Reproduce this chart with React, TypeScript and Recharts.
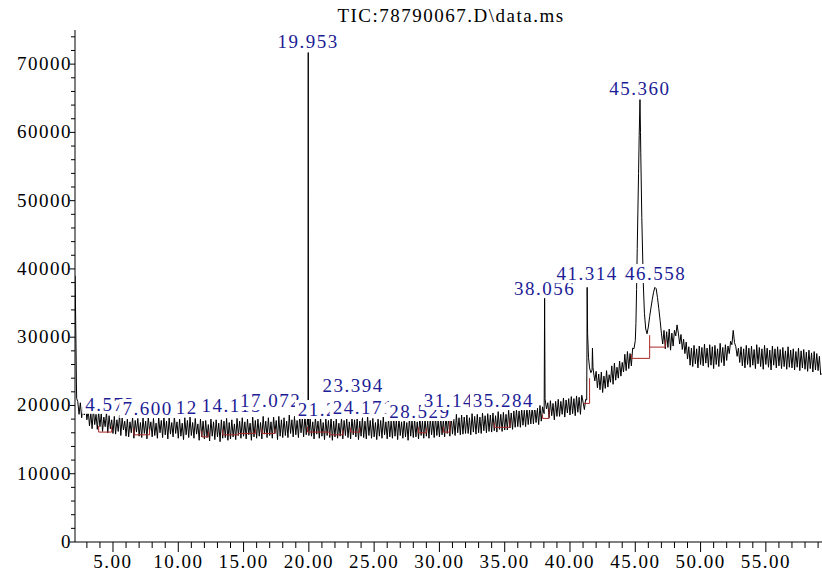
import { ComposedChart, Line, Scatter, XAxis, YAxis } from 'recharts';

// TIC trace, sampled every 0.1 min starting at 2.1 min (one row = one minute)
const baseStart = 2.1;
const baseStep = 0.1;
const baseValues = [
  39000, 23000, 20600, 18700, 20400, 18200, 19800, 18600, 20100, 17900,
  19300, 17000, 18900, 16600, 19500, 17200, 18700, 16500, 19100, 16900,
  18800, 16200, 18300, 16900, 19000, 16000, 18500, 16600, 17900, 15900,
  18400, 15800, 17900, 16200, 18600, 15600, 18200, 16400, 17700, 15500,
  18000, 15400, 17600, 16000, 18300, 15200, 17800, 16100, 18100, 15500,
  17500, 15300, 18200, 15900, 17700, 15100, 18400, 16200, 17600, 15400,
  18100, 15600, 17400, 15200, 18300, 16000, 17800, 15300, 18500, 15700,
  17700, 15100, 18200, 15800, 17500, 15400, 18400, 15900, 17600, 15200,
  18000, 15500, 17400, 15000, 18200, 15700, 17800, 15300, 18300, 15600,
  17500, 15200, 18100, 15800, 17300, 14900, 18000, 15400, 17700, 15100,
  17800, 15300, 17200, 14800, 18000, 15500, 17600, 15000, 17900, 15400,
  17400, 14700, 17900, 15200, 17700, 15300, 18100, 14900, 17500, 15100,
  17900, 15400, 17300, 15000, 18100, 15600, 17700, 15200, 18200, 15500,
  17600, 15100, 18000, 15700, 17400, 14900, 18300, 15400, 17800, 15200,
  18000, 15500, 17500, 15100, 18400, 15800, 17700, 15300, 18200, 15600,
  17600, 15200, 18300, 15900, 17800, 15000, 18400, 15500, 17900, 15300,
  18200, 15600, 17700, 15300, 18600, 15900, 17900, 15400, 18400, 15700,
  17800, 15300, 18500, 16000, 18100, 15400, 18600, 15700, 18200, 15600,
  18100, 15500, 17600, 15100, 18300, 15800, 17700, 15200, 18200, 15500,
  17500, 15000, 18100, 15600, 17800, 15300, 18300, 14900, 17700, 15400,
  18000, 15200, 17400, 15500, 18200, 15100, 17800, 15600, 18100, 15300,
  17600, 15100, 18300, 15700, 17900, 15400, 18200, 15000, 17700, 15500,
  18200, 15300, 17700, 15100, 18400, 15600, 17800, 15200, 18100, 15400,
  17500, 15000, 18000, 15500, 17800, 15200, 18300, 15700, 17600, 15100,
  18100, 15400, 17700, 15200, 18300, 15500, 17900, 15000, 18200, 15600,
  17600, 15200, 18000, 15400, 17500, 14900, 18200, 15500, 17800, 15300,
  18000, 15400, 17600, 15100, 18300, 15600, 17700, 15200, 18100, 15500,
  17700, 15200, 18200, 15700, 17900, 15300, 18400, 15600, 17800, 15400,
  18300, 15700, 17900, 15400, 18600, 15900, 18100, 15500, 18500, 15800,
  18000, 15600, 18700, 16000, 18200, 15700, 18600, 15800, 18300, 15900,
  18600, 15900, 18200, 15700, 18800, 16100, 18400, 15800, 18700, 16000,
  18300, 15900, 18900, 16300, 18500, 16000, 18800, 16200, 18600, 16100,
  18900, 16300, 18500, 16100, 19100, 16500, 18700, 16200, 19000, 16400,
  18700, 16400, 19300, 16700, 18900, 16500, 19200, 16800, 19400, 16900,
  19200, 16800, 19500, 17100, 19300, 16900, 19700, 17200, 19400, 17300,
  19700, 17300, 19900, 17500, 19600, 17200, 20000, 17700, 19800, 18900,
  20800, 19500, 20400, 18200, 20700, 18500, 20300, 17900, 20600, 18400,
  20900, 18400, 20600, 18700, 21100, 18300, 20800, 18900, 21000, 18600,
  21300, 18800, 21000, 18500, 21400, 19000, 21200, 18700, 21500, 20500,
  19400, 20900, 29000, 28000, 25500, 24800, 26500, 24900, 23600, 25000,
  22600, 24600, 22300, 24900, 21900, 24300, 22500, 25100, 22700, 24500,
  23400, 25800, 23100, 26200, 23700, 25600, 24000, 26500, 24300, 26300,
  24900, 27500, 25100, 27900, 25400, 27600, 25800, 28400, 28300, 29500,
  37000, 48500, 59500, 60000, 47500, 39000, 33500, 31200, 30500, 31500,
  33000, 34300, 35500, 36600, 37300, 37100, 35800, 34200, 32500, 30600,
  29000, 31000, 28300, 30800, 28500, 31200, 28100, 30600, 28700, 31000,
  30200, 31800, 30600, 29000, 30400, 28200, 29700, 27600, 29300, 26800,
  28600, 25900, 28400, 25700, 28800, 26100, 28300, 25500, 28700, 26000,
  28500, 25800, 29000, 26200, 28400, 25600, 28900, 25900, 28600, 25400,
  28800, 26000, 28300, 25700, 29100, 26300, 28500, 25800, 28900, 26600,
  28700, 27600, 29400, 28900, 31000, 29200, 28600, 27200, 28400, 26300,
  28600, 25800, 28300, 25500, 28800, 26000, 28400, 25600, 28700, 25900,
  28200, 25400, 28900, 26100, 28500, 25700, 28300, 25300, 28800, 26000,
  28400, 25600, 28100, 25200, 28700, 25900, 28300, 25500, 28600, 25800,
  28200, 25400, 28500, 25700, 28000, 25300, 28600, 25600, 28100, 25500,
  28300, 25200, 27900, 25600, 28400, 25100, 28000, 25500, 28200, 25300,
  27800, 25000, 28100, 25400, 27700, 24900, 27900, 25200, 27600, 25100,
  27200, 24500, 24700,
];

// sharp peaks sampled off the grid
const peakTimes = [2.18, 2.22, 19.935, 19.953, 19.97, 38.02, 38.056, 38.09, 41.28, 41.314, 41.35, 41.42, 41.69, 41.72, 41.76, 45.05, 45.15, 45.25, 45.36, 45.42, 45.62];
const peakValues = [26500, 21000, 17200, 71700, 17600, 18800, 35700, 21000, 20800, 37300, 30500, 27000, 25200, 28400, 25600, 32000, 43000, 54000, 64800, 57000, 37500];

// integration baselines (null breaks the line)
const redTimes = [
  3.9, 3.9, 4.9, 4.9, 4.9,
  6.6, 6.6, 7.8, 7.8, 7.8,
  11.8, 11.8, 12.3, 12.3, 12.3,
  13.4, 13.4, 14.6, 14.6, 15.9, 15.9, 15.9,
  16.4, 16.4, 17.4, 17.4, 17.4,
  19.9, 19.9, 21.6, 21.6, 22.6, 22.6, 22.6,
  23.2, 23.2, 23.9, 23.9, 23.9,
  28.4, 28.4, 29.0, 29.0, 29.0,
  30.3, 30.3, 30.8, 30.8, 30.8,
  34.2, 34.2, 35.4, 35.4, 35.4,
  37.9, 37.9, 38.4, 38.4, 38.4,
  41.0, 41.5, 41.5, 41.5,
  44.7, 44.7, 46.1, 46.1, 46.1,
  46.1, 47.3, 47.3,
];
const redValues = [
  17000, 16100, 16100, 16900, null,
  16700, 15700, 15700, 16600, null,
  16300, 15400, 15400, 16200, null,
  16500, 15700, 15700, 15900, 15900, 16500, null,
  16600, 15900, 15900, 16600, null,
  16900, 16100, 16100, 15700, 15700, 16400, null,
  16700, 16100, 16100, 16700, null,
  16800, 16000, 16000, 16700, null,
  16900, 16100, 16100, 17800, null,
  17500, 16800, 16800, 17900, null,
  18700, 18100, 18100, 19500, null,
  20300, 20300, 24000, null,
  27500, 26900, 26900, 30300, null,
  28550, 28550, 29600,
];

// peak annotations
const labelTexts = ['4.573', '7.600', '12.111', '14.115', '17.072', '19.953', '21.224', '23.394', '24.171', '28.529', '31.145', '35.284', '38.056', '41.314', '45.360', '46.558'];
const labelTimes = [4.8, 7.65, 12.1, 14.1, 17.07, 19.953, 21.5, 23.394, 24.171, 28.5, 31.145, 34.9, 38.056, 41.314, 45.36, 46.558];
const labelLevels = [20100, 19480, 19630, 19920, 20650, 73240, 19340, 22850, 19630, 19040, 20650, 20650, 37060, 39260, 66360, 39260];

const xTicks = Array.from({ length: 57 }, (_, i) => i + 3);
const yTicks = Array.from({ length: 38 }, (_, i) => i * 2000);

const FONT = '"Liberation Serif", "Times New Roman", serif';

const trace = [
  ...baseValues.map((v, i) => ({ t: +(baseStart + i * baseStep).toFixed(2), v })),
  ...peakTimes.map((t, i) => ({ t, v: peakValues[i] })),
].sort((a, b) => a.t - b.t);

const redData = redTimes.map((t, i) => ({ t, v: redValues[i] }));
const labelData = labelTexts.map((text, i) => ({ t: labelTimes[i], v: labelLevels[i], text }));

const XTick = ({ x, y, payload }: any) => {
  const major = payload.value % 5 === 0;
  return (
    <g>
      <line x1={x} x2={x} y1={y} y2={y + (major ? 10 : 6)} stroke="#000" />
      {major && (
        <text x={x} y={y + 26} textAnchor="middle" fontFamily={FONT} fontSize={19} letterSpacing={1.5} fill="#000">
          {payload.value.toFixed(2)}
        </text>
      )}
    </g>
  );
};

const YTick = ({ x, y, payload }: any) => {
  const major = payload.value % 10000 === 0;
  return (
    <g>
      <line x1={x - (major ? 5 : 4)} x2={x} y1={y} y2={y} stroke="#000" />
      {major && (
        <text x={x - 3} y={y + 6} textAnchor="end" fontFamily={FONT} fontSize={19} letterSpacing={1.5} fill="#000">
          {payload.value}
        </text>
      )}
    </g>
  );
};

const PeakLabel = ({ cx, cy, payload }: any) => {
  const w = payload.text.length * 10.5 + 4;
  return (
    <g>
      <rect x={cx - w / 2} y={cy - 10} width={w} height={19} fill="#fff" />
      <text x={cx} y={cy + 6} textAnchor="middle" fontFamily={FONT} fontSize={19} letterSpacing={1.5} fill="#1c1c96">
        {payload.text}
      </text>
    </g>
  );
};

export default function App() {
  return (
    <div style={{ position: 'absolute', left: 0, top: 0, width: 822, height: 573, background: '#fff' }}>
      <div
        style={{
          position: 'absolute',
          left: 451,
          top: 6,
          transform: 'translateX(-50%)',
          fontFamily: FONT,
          fontSize: 19,
          letterSpacing: 1.5,
          lineHeight: '20px',
          whiteSpace: 'nowrap',
          color: '#000',
        }}
      >
        {'TIC:78790067.D\\data.ms'}
      </div>
      <ComposedChart width={822} height={573} data={trace} margin={{ top: 30, right: 0, bottom: 0, left: 0 }}>
        <XAxis
          dataKey="t"
          type="number"
          domain={[2.09, 59.3]}
          allowDataOverflow
          ticks={xTicks}
          interval={0}
          tickSize={0}
          tickMargin={0}
          tick={<XTick />}
          height={31}
          axisLine={{ stroke: '#000' }}
        />
        <YAxis
          type="number"
          domain={[0, 75000]}
          allowDataOverflow
          ticks={yTicks}
          interval={0}
          tickSize={0}
          tickMargin={0}
          tick={<YTick />}
          width={75}
          axisLine={{ stroke: '#000' }}
        />
        <Line dataKey="v" type="linear" stroke="#000" strokeWidth={1} dot={false} isAnimationActive={false} />
        <Line data={redData} dataKey="v" type="linear" stroke="#a82828" strokeWidth={1} dot={false} connectNulls={false} isAnimationActive={false} />
        <Scatter data={labelData} dataKey="v" shape={<PeakLabel />} isAnimationActive={false} />
      </ComposedChart>
    </div>
  );
}
